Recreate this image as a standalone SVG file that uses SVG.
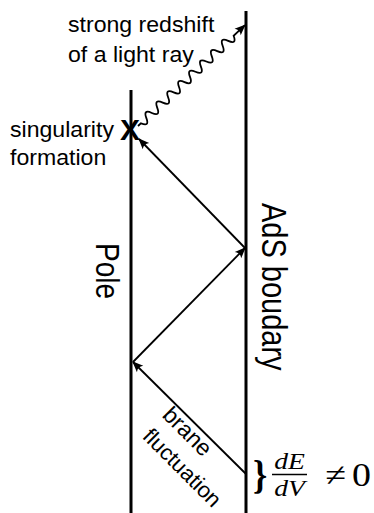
<svg xmlns="http://www.w3.org/2000/svg" width="374" height="513" viewBox="0 0 374 513">
<defs>
<marker id="ah" viewBox="-11 -6 13 12" refX="0" refY="0" markerWidth="13" markerHeight="12" markerUnits="userSpaceOnUse" orient="auto"><path d="M1,0 L-10,-4.5 Q-6.5,0 -10,4.5 Z" fill="#000"/></marker>
</defs>
<style>
.lbl{font-family:"Liberation Sans",Arial,sans-serif;fill:#000}
.wall{stroke:#000;stroke-width:3;fill:none}
.ray{stroke:#000;stroke-width:1.8;fill:none;marker-end:url(#ah)}
.math{font-family:"Liberation Serif","Times New Roman",serif;fill:#000}
</style>
<rect width="374" height="513" fill="#fff"/>
<g id="pole">
<line class="wall" x1="131" y1="90" x2="131" y2="513"/>
<text class="lbl" font-size="28" transform="translate(96,243) scale(1.2,1) rotate(90)">Pole</text>
</g>
<g id="ads-boundary">
<line class="wall" x1="246" y1="11" x2="246" y2="513"/>
<text class="lbl" font-size="29" transform="translate(262,203) scale(1.2,1) rotate(90)">AdS boudary</text>
</g>
<g id="singularity">
<text x="130" y="140" font-family="Liberation Sans,Arial,sans-serif" font-weight="bold" font-size="30" text-anchor="middle">X</text>
<text class="lbl" font-size="22" transform="translate(10,137) scale(1.05,1)">singularity</text>
<text class="lbl" font-size="22" transform="translate(10,165) scale(1.05,1)">formation</text>
</g>
<g id="redshift-label">
<text class="lbl" font-size="22" transform="translate(68,32) scale(1.05,1)">strong redshift</text>
<text class="lbl" font-size="22" transform="translate(68,62) scale(1.05,1)">of a light ray</text>
</g>
<g id="brane-label">
<text class="lbl" font-size="23" text-anchor="middle" transform="translate(182,437) rotate(45)">brane</text>
<text class="lbl" font-size="22" text-anchor="middle" transform="translate(177,473) rotate(45)">fluctuation</text>
</g>
<g id="condition">
<text class="math" font-size="40" font-weight="bold" transform="translate(253,488) scale(0.9,1)">}</text>
<text class="math" font-size="23" font-style="italic" text-anchor="middle" transform="translate(289.5,469) scale(1.2,1)">dE</text>
<line x1="272" y1="474.5" x2="307" y2="474.5" stroke="#000" stroke-width="1.3"/>
<text class="math" font-size="23" font-style="italic" text-anchor="middle" transform="translate(289.5,496) scale(1.2,1)">dV</text>
<text class="math" font-size="33" transform="translate(325,486) scale(1.15,1)">≠</text>
<text class="math" font-size="33" transform="translate(352,486) scale(1.15,1)">0</text>
</g>
<g id="connectors">
<line class="ray" x1="246" y1="474" x2="133" y2="362"/>
<line class="ray" x1="133" y1="362" x2="245" y2="248"/>
<line class="ray" x1="245" y1="248" x2="139" y2="139"/>
<path class="ray" transform="translate(138,126) rotate(-43.35)" d="M0,0 L4,0 q3.75,9 7.5,0 t7.5,0 t7.5,0 t7.5,0 t7.5,0 t7.5,0 t7.5,0 t7.5,0 t7.5,0 t7.5,0 t7.5,0 t7.5,0 t7.5,0 t7.5,0 t7.5,0 t7.5,0 t7.5,0 L147,0"/>
</g>
</svg>
